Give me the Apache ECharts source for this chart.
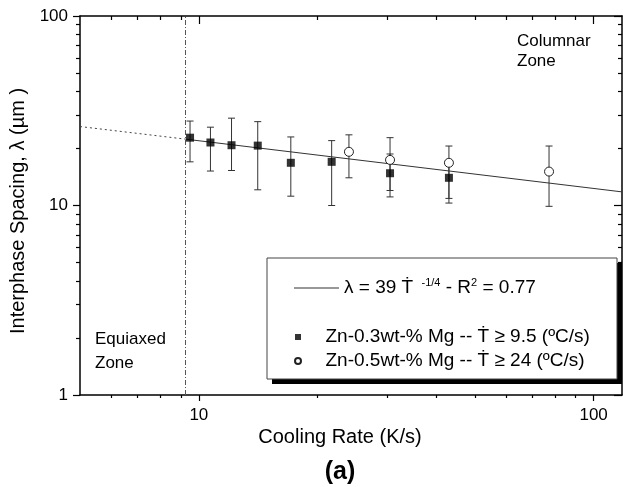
<!DOCTYPE html>
<html>
<head>
<meta charset="utf-8">
<script src="https://cdn.jsdelivr.net/npm/echarts@6/dist/echarts.min.js"></script>
<style>
  html, body { margin: 0; padding: 0; background: #fff; }
  #main { width: 623px; height: 487px; }
</style>
</head>
<body>
<div id="main"></div>
<script>
// Zn-0.3wt-% Mg (filled squares)
const sq03X = [9.5, 10.7, 12.1, 14.1, 17.1, 21.7, 30.5, 43.0]
const sq03Y = [22.8, 21.5, 20.8, 20.7, 16.8, 17.0, 14.8, 14.0]
const sq03Lo = [17.0, 15.2, 15.3, 12.1, 11.2, 10.0, 11.1, 10.9]
const sq03Hi = [27.9, 25.9, 28.9, 27.7, 23.0, 22.0, 18.7, 17.1]

// Zn-0.5wt-% Mg (open circles)
const ci05X = [24.0, 30.5, 43.0, 77.1]
const ci05Y = [19.2, 17.4, 16.8, 15.1]
const ci05Lo = [14.0, 12.0, 10.3, 9.9]
const ci05Hi = [23.6, 22.8, 20.6, 20.6]

// fitted line, read at its ends and at the zone border
const fitSolidX = [9.25, 118]
const fitSolidY = [22.4, 11.8]
const fitDashX = [5, 9.25]
const fitDashY = [26.1, 22.4]
const zoneBorder = 9.25

// ticks
const xMajor = [10, 100]
const xMinor = [6, 7, 8, 9, 20, 30, 40, 50, 60, 70, 80, 90]
const yMajor = [1, 10, 100]
const yMinor = [2, 3, 4, 5, 6, 7, 8, 9, 20, 30, 40, 50, 60, 70, 80, 90]

const fitName = 'λ = 39 Ṫ -1/4 - R2 = 0.77'
const sqName = 'Zn-0.3wt-% Mg -- Ṫ ≥ 9.5 (ºC/s)'
const ciName = 'Zn-0.5wt-% Mg -- Ṫ ≥ 24 (ºC/s)'

const font = '"Liberation Sans", Arial, Helvetica, sans-serif'

const zip = (a, b) => a.map((v, i) => [v, b[i]])
const zip3 = (a, b, c) => a.map((v, i) => [v, b[i], c[i]])

function errorBars (api) {
  const x = api.value(0)
  const top = api.coord([x, api.value(2)])
  const bot = api.coord([x, api.value(1)])
  const w = 3.5
  const st = { stroke: '#333', lineWidth: 1 }
  return {
    type: 'group',
    children: [
      { type: 'line', shape: { x1: top[0], y1: top[1], x2: bot[0], y2: bot[1] }, style: st },
      { type: 'line', shape: { x1: top[0] - w, y1: top[1], x2: top[0] + w, y2: top[1] }, style: st },
      { type: 'line', shape: { x1: bot[0] - w, y1: bot[1], x2: bot[0] + w, y2: bot[1] }, style: st }
    ]
  }
}

function logAxis (pos, ticks, len, inside, opts) {
  return Object.assign({
    type: 'log',
    position: pos,
    min: pos === 'top' || pos === 'bottom' ? 5 : 1,
    max: pos === 'top' || pos === 'bottom' ? 118 : 100,
    axisLine: { show: false },
    splitLine: { show: false },
    axisTick: {
      show: true,
      inside: inside,
      length: len,
      customValues: ticks,
      lineStyle: { color: '#000', width: 1.2 }
    },
    axisLabel: { show: false }
  }, opts || {})
}

const axisLineOn = { show: true, lineStyle: { color: '#000', width: 1.5 } }
const labelStyle = (vals) => ({
  show: true,
  customValues: vals,
  fontSize: 17,
  fontFamily: font,
  color: '#000',
  margin: 12
})

var myChart = echarts.init(document.getElementById('main'))

var option = {
  animation: false,
  backgroundColor: '#fff',
  grid: { left: 80, right: 1, top: 16, bottom: 92 },
  xAxis: [
    logAxis('bottom', xMajor, 6, false, { axisLine: axisLineOn, axisLabel: labelStyle(xMajor) }),
    logAxis('bottom', xMinor, 3, false),
    logAxis('top', xMajor, 8, true, { axisLine: axisLineOn }),
    logAxis('top', xMinor, 4, true)
  ],
  yAxis: [
    logAxis('left', yMajor, 7, false, { axisLine: axisLineOn, axisLabel: labelStyle(yMajor) }),
    logAxis('left', yMinor, 4, false),
    logAxis('right', yMajor, 8, true, { axisLine: axisLineOn }),
    logAxis('right', yMinor, 4, true)
  ],
  legend: [
    {
      data: [{ name: fitName, icon: 'rect' }],
      left: 294,
      top: 277,
      padding: 0,
      itemWidth: 45,
      itemHeight: 1,
      selectedMode: false,
      formatter: () => '{t|λ = 39 Ṫ }{s| -1/4}{t| - R}{s|2}{t| = 0.77}',
      textStyle: {
        color: '#000',
        fontFamily: font,
        rich: {
          t: { fontSize: 19, lineHeight: 22, fontFamily: font, color: '#000' },
          s: { fontSize: 11, verticalAlign: 'top', fontFamily: font, color: '#000' }
        }
      }
    },
    {
      data: [
        { name: sqName, icon: 'path://M0,0H10V10H0Z' },
        { name: ciName, icon: 'circle' }
      ],
      orient: 'vertical',
      left: 294,
      top: 327,
      padding: 0,
      itemGap: 4,
      itemWidth: 45,
      itemHeight: 6,
      selectedMode: false,
      textStyle: { fontSize: 19, lineHeight: 20, fontFamily: font, color: '#000' }
    }
  ],
  graphic: [
    { type: 'rect', z: 1, shape: { x: 272, y: 263, width: 350, height: 121 }, style: { fill: '#000' } },
    { type: 'rect', z: 1, shape: { x: 267, y: 258, width: 350, height: 121 }, style: { fill: '#fff', stroke: '#444', lineWidth: 1 } },
    {
      type: 'text', left: 517, top: 31, z: 5,
      style: { text: 'Columnar\nZone', font: '17px ' + font, lineHeight: 20, fill: '#000' }
    },
    {
      type: 'text', left: 95, top: 327, z: 5,
      style: { text: 'Equiaxed\nZone', font: '17px ' + font, lineHeight: 24, fill: '#000' }
    },
    {
      type: 'text', x: 340, y: 437, z: 5,
      style: { text: 'Cooling Rate (K/s)', font: '20px ' + font, fill: '#000', align: 'center', verticalAlign: 'middle', textAlign: 'center', textVerticalAlign: 'middle' }
    },
    {
      type: 'text', x: 340, y: 472, z: 5,
      style: { text: '(a)', font: 'bold 25px ' + font, fill: '#000', align: 'center', verticalAlign: 'middle', textAlign: 'center', textVerticalAlign: 'middle' }
    },
    {
      type: 'text', x: 18, y: 211, rotation: Math.PI / 2, z: 5,
      style: { text: 'Interphase Spacing, λ (µm )', font: '20px ' + font, fill: '#000', align: 'center', verticalAlign: 'middle', textAlign: 'center', textVerticalAlign: 'middle' }
    }
  ],
  series: [
    {
      name: 'dash',
      type: 'line',
      data: zip(fitDashX, fitDashY),
      symbol: 'none',
      lineStyle: { color: '#444', width: 1, type: [2, 3] },
      z: 2
    },
    {
      name: fitName,
      type: 'line',
      data: zip(fitSolidX, fitSolidY),
      symbol: 'none',
      lineStyle: { color: '#333', width: 1 },
      itemStyle: { color: '#333' },
      z: 2,
      markLine: {
        silent: true,
        symbol: ['none', 'none'],
        label: { show: false },
        lineStyle: { color: '#555', width: 1, type: [5, 2, 1, 2] },
        data: [{ xAxis: zoneBorder }]
      }
    },
    {
      name: 'err03',
      type: 'custom',
      renderItem: (params, api) => errorBars(api),
      encode: { x: 0, y: [1, 2] },
      data: zip3(sq03X, sq03Lo, sq03Hi),
      z: 3
    },
    {
      name: 'err05',
      type: 'custom',
      renderItem: (params, api) => errorBars(api),
      encode: { x: 0, y: [1, 2] },
      data: zip3(ci05X, ci05Lo, ci05Hi),
      z: 3
    },
    {
      name: sqName,
      type: 'scatter',
      symbol: 'rect',
      symbolSize: 8,
      data: zip(sq03X, sq03Y),
      itemStyle: { color: '#000' },
      z: 4
    },
    {
      name: ciName,
      type: 'scatter',
      symbol: 'circle',
      symbolSize: 9,
      data: zip(ci05X, ci05Y),
      itemStyle: { color: '#fff', borderColor: '#222', borderWidth: 1, opacity: 1 },
      z: 4
    }
  ]
}

myChart.setOption(option)
</script>
</body>
</html>
